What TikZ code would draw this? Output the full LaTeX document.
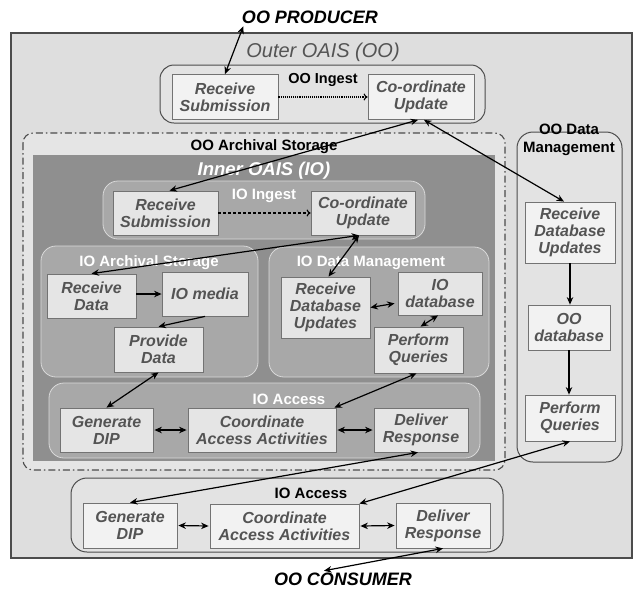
\documentclass[tikz,border=0pt]{standalone}
\usepackage{fontspec}
\setmainfont{Liberation Sans}
\usetikzlibrary{arrows.meta}

\definecolor{outerbg}{gray}{0.87}
\definecolor{archbg}{gray}{0.9}
\definecolor{ingestbg}{gray}{0.89}
\definecolor{iodark}{gray}{0.56}
\definecolor{iogroup}{gray}{0.66}
\definecolor{iogroupline}{gray}{0.85}
\definecolor{boxfill}{gray}{0.95}
\definecolor{iboxfill}{gray}{0.9}
\definecolor{boxline}{gray}{0.45}
\definecolor{boxtext}{gray}{0.33}
\definecolor{frameline}{gray}{0.3}

\newcommand{\boxfont}{\fontsize{16}{17}\selectfont\bfseries\itshape}
\newcommand{\grpfont}{\fontsize{15}{18}\selectfont\bfseries}

\begin{document}
\begin{tikzpicture}[x=1pt, y=-1pt,
  proc/.style={draw=boxline, fill=boxfill, line width=0.8pt, text=boxtext, font=\boxfont, align=center, inner sep=0pt},
  iproc/.style={proc, fill=iboxfill},
  grplabel/.style={font=\grpfont, inner sep=0pt, anchor=base, align=center},
  oogroup/.style={draw=frameline, fill=ingestbg, line width=1pt, rounded corners=14pt},
  iogroupbox/.style={draw=iogroupline, fill=iogroup, line width=0.8pt, rounded corners=15pt},
  oneway/.style={line width=1.2pt, -{Stealth[length=7.5pt,width=6.5pt]}},
  twoway/.style={line width=1.2pt, {Stealth[length=7.5pt,width=6.5pt]}-{Stealth[length=7.5pt,width=6.5pt]}},
  dotarrow/.style={line width=1.1pt, densely dotted, -{To[length=4pt,width=7pt]}},
  dasharrow/.style={line width=1.1pt, dash pattern=on 3pt off 2pt, -{To[length=4pt,width=7pt]}}
]
\useasboundingbox[fill=white] (0,0) rectangle (634,590);

\draw[fill=outerbg, draw=frameline, line width=1.5pt] (11,33) rectangle (632,558);
\node[font=\fontsize{18}{18}\selectfont\bfseries\itshape, inner sep=0pt, anchor=base] (producer) at (310,23) {OO PRODUCER};
\node[font=\fontsize{20}{20}\selectfont\itshape, text=boxtext, inner sep=0pt, anchor=base] (outerlbl) at (323,57.5) {Outer OAIS (OO)};

% OO Ingest
\draw[oogroup] (160,65) rectangle (485,123);
\node[grplabel, font=\fontsize{14.5}{17}\selectfont\bfseries] (ooingest) at (323,83) {OO Ingest};
\node[proc, minimum width=106pt, minimum height=45pt] (oRecSub) at (225,97) {Receive\\Submission};
\node[proc, minimum width=106pt, minimum height=45pt] (oCoord) at (421,97) {Co-ordinate\\Update};

% OO Archival Storage with the inner OAIS
\draw[fill=archbg, draw=frameline, line width=1.1pt, rounded corners=10pt, dash pattern=on 7pt off 3pt on 1.5pt off 3pt] (23,133) rectangle (505,470);
\node[grplabel] (ooarch) at (264,150) {OO Archival Storage};
\fill[iodark] (33,155) rectangle (495,461);
\node[font=\fontsize{18.5}{19}\selectfont\bfseries\itshape, text=white, inner sep=0pt, anchor=base] (innerlbl) at (264,175.5) {Inner OAIS (IO)};

\draw[iogroupbox] (103,181) rectangle (425,239);
\node[grplabel, text=white] (ioingest) at (264,199.5) {IO Ingest};
\node[iproc, minimum width=105pt, minimum height=44pt] (iRecSub) at (165.5,213) {Receive\\Submission};
\node[iproc, minimum width=104pt, minimum height=44pt] (iCoord) at (363,213) {Co-ordinate\\Update};

\draw[iogroupbox] (41,246) rectangle (258,377);
\node[grplabel, text=white] (ioarch) at (149,266.5) {IO Archival Storage};
\node[iproc, minimum width=89pt, minimum height=44pt] (recData) at (91.5,296) {Receive\\Data};
\node[iproc, minimum width=86pt, minimum height=44pt] (ioMedia) at (205,294) {IO media};
\node[iproc, minimum width=89pt, minimum height=45pt] (provData) at (158.5,349.5) {Provide\\Data};

\draw[iogroupbox] (269,247) rectangle (489,377);
\node[grplabel, text=white] (iodm) at (371,266.5) {IO Data Management};
\node[iproc, minimum width=89pt, minimum height=61pt] (iRDU) at (325.5,307.5) {Receive\\Database\\Updates};
\node[iproc, minimum width=84pt, minimum height=43pt] (ioDb) at (440,293.5) {IO\\database};
\node[iproc, minimum width=89pt, minimum height=46pt] (iPQ) at (418.5,350) {Perform\\Queries};

\draw[iogroupbox] (49,383) rectangle (480,458);
\node[grplabel, text=white] (ioaccess) at (289,404) {IO Access};
\node[iproc, minimum width=93pt, minimum height=44pt] (iGen) at (106.5,430) {Generate\\DIP};
\node[iproc, minimum width=148pt, minimum height=44pt] (iCAA) at (262,430) {Coordinate\\Access Activities};
\node[iproc, minimum width=94pt, minimum height=44pt] (iDel) at (421,430) {Deliver\\Response};

% OO Data Management
\draw[oogroup, rounded corners=16pt] (517,132) rectangle (622,462);
\node[grplabel] (oodm) at (569,152) {OO Data\\Management};
\node[proc, minimum width=90pt, minimum height=61pt] (oRDU) at (570,232.5) {Receive\\Database\\Updates};
\node[proc, minimum width=82pt, minimum height=45pt] (ooDb) at (569,327.5) {OO\\database};
\node[proc, minimum width=90pt, minimum height=46pt] (oPQ) at (570,418) {Perform\\Queries};

% OO side IO Access
\draw[oogroup, rounded corners=16pt] (71,478) rectangle (503,552);
\node[grplabel] (ooaccess) at (311,498.5) {IO Access};
\node[proc, minimum width=94pt, minimum height=45pt] (oGen) at (130,525.5) {Generate\\DIP};
\node[proc, minimum width=149pt, minimum height=44pt] (oCAA) at (284.5,526) {Coordinate\\Access Activities};
\node[proc, minimum width=94pt, minimum height=45pt] (oDel) at (443,525.5) {Deliver\\Response};

\node[font=\fontsize{18}{18}\selectfont\bfseries\itshape, inner sep=0pt, anchor=base] (consumer) at (343,585.5) {OO CONSUMER};

% connectors
\draw[twoway] ([xshift=1.5pt,yshift=-3pt]producer.south west) -- (oRecSub.north);
\draw[dotarrow] (oRecSub.east) -- (oCoord.west);
\draw[twoway] ([xshift=-3pt]oCoord.south) -- ([xshift=4pt]iRecSub.north);
\draw[twoway] ([xshift=3pt]oCoord.south) -- ([xshift=-6pt]oRDU.north);
\draw[dasharrow] (iRecSub.east) -- (iCoord.west);
\draw[twoway] ([xshift=-4pt]iCoord.south) -- (recData.north);
\draw[twoway] ([xshift=-4pt]iCoord.south) -- ([xshift=3pt]iRDU.north);
\draw[oneway] (recData.east |- ioMedia.west) -- (ioMedia.west);
\draw[oneway] (ioMedia.south) -- (provData.north);
\draw[twoway] (iRDU.east) -- ([xshift=-3pt,yshift=12pt]ioDb.south west);
\draw[twoway] ([xshift=2pt]iPQ.north) -- ([xshift=-2pt]ioDb.south);
\draw[twoway] (provData.south) -- (iGen.north);
\draw[twoway] ([xshift=-2pt]iPQ.south) -- ([xshift=-2pt]iCAA.north east);
\draw[twoway] ([xshift=1pt]iGen.east) -- ([xshift=-1pt]iCAA.west);
\draw[twoway] ([xshift=1pt]iCAA.east) -- ([xshift=-1pt]iDel.west);
\draw[twoway] ([xshift=-3pt]iDel.south) -- (oGen.north);
\draw[oneway] (oRDU.south) -- (oRDU.south |- ooDb.north);
\draw[oneway] (ooDb.south) -- (ooDb.south |- oPQ.north);
\draw[twoway] (oPQ.south) -- (oCAA.north east);
\draw[twoway] ([xshift=1pt]oGen.east) -- ([xshift=-1pt]oCAA.west);
\draw[twoway] ([xshift=1pt]oCAA.east) -- ([xshift=-1pt]oDel.west);
\draw[twoway] (oDel.south) -- ([xshift=-19pt,yshift=2pt]consumer.north);
\end{tikzpicture}
\end{document}
